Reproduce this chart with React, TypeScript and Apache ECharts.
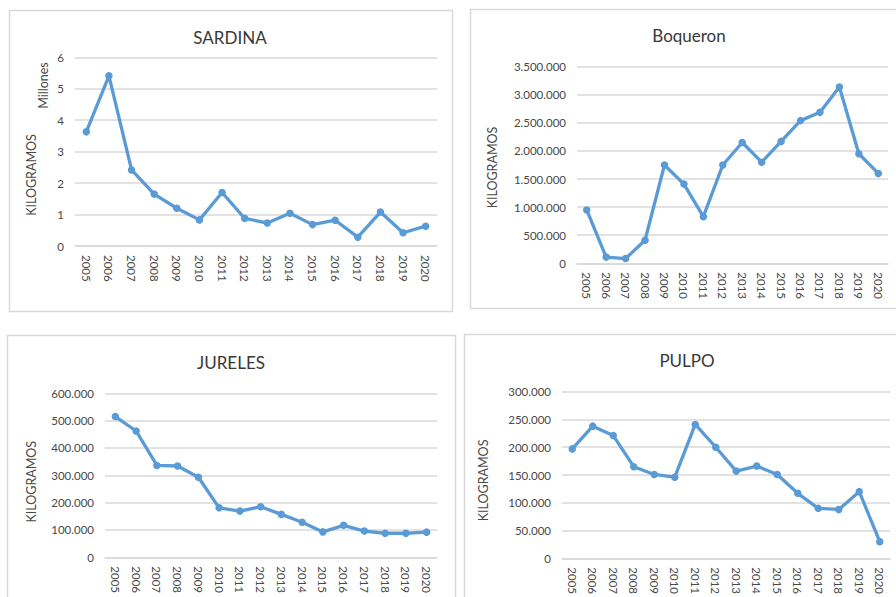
import React, { useEffect, useRef } from "react";
import * as echarts from "echarts";

const years = ["2005","2006","2007","2008","2009","2010","2011","2012","2013","2014","2015","2016","2017","2018","2019","2020"];

const sardina = [3630000, 5410000, 2420000, 1650000, 1200000, 830000, 1700000, 880000, 730000, 1040000, 680000, 820000, 280000, 1080000, 420000, 630000];
const boqueron = [950000, 110000, 85000, 410000, 1750000, 1410000, 830000, 1750000, 2150000, 1800000, 2170000, 2540000, 2690000, 3140000, 1950000, 1600000];
const jureles = [515000, 462000, 336000, 334000, 293000, 181000, 169000, 185000, 157000, 128000, 93000, 117000, 96000, 88000, 88000, 92000];
const pulpo = [197000, 238000, 221000, 165000, 151000, 146000, 241000, 200000, 157000, 166000, 151000, 117000, 90000, 88000, 120000, 30000];

const titles = ["SARDINA", "Boqueron", "JURELES", "PULPO"];

const FONT = "Lato, 'Open Sans', sans-serif";
const LABEL = "#484848";
const GRIDC = "#d9d9d9";
const LINEC = "#5B9BD5";

const dots = (v: number) => String(v).replace(/\B(?=(\d{3})+(?!\d))/g, ".");

export default function App() {
  const ref = useRef<HTMLDivElement>(null);
  useEffect(() => {
    if (!ref.current) return;
    const chart = echarts.init(ref.current, undefined, { renderer: "svg" });

    const grids = [
      { left: 75, top: 57.3, width: 362, height: 188.7 },
      { left: 577, top: 66.7, width: 311, height: 196.6 },
      { left: 105, top: 393.3, width: 332, height: 164 },
      { left: 562, top: 391.7, width: 328, height: 166.6 },
    ];
    const yCfg = [
      { max: 6000000, interval: 1000000, fmt: (v: number) => String(v / 1000000) },
      { max: 3500000, interval: 500000, fmt: dots },
      { max: 600000, interval: 100000, fmt: dots },
      { max: 300000, interval: 50000, fmt: dots },
    ];
    const series = [sardina, boqueron, jureles, pulpo];

    const titlePos = [
      [230, 37],
      [689, 35],
      [231, 362],
      [687, 360.5],
    ];
    const kiloPos = [
      [31.7, 175],
      [492, 167.5],
      [31, 481.7],
      [483, 480.4],
    ];
    const panels = [
      [9.5, 10.5, 443, 301],
      [470.5, 9.5, 440, 299],
      [7.5, 335.5, 448, 280],
      [464.5, 334.5, 440, 280],
    ];

    const graphic: any[] = [];
    panels.forEach((p) =>
      graphic.push({
        type: "rect",
        shape: { x: p[0], y: p[1], width: p[2], height: p[3] },
        style: { fill: "#fff", stroke: GRIDC, lineWidth: 1.5 },
        z: -10,
        silent: true,
      })
    );
    titles.forEach((t, i) =>
      graphic.push({
        type: "text",
        x: titlePos[i][0],
        y: titlePos[i][1],
        style: {
          text: t,
          fontFamily: FONT,
          fontSize: 17,
          fill: "#383838",
          align: "center",
          verticalAlign: "middle",
        },
      })
    );
    kiloPos.forEach((k) =>
      graphic.push({
        type: "text",
        x: k[0],
        y: k[1],
        rotation: Math.PI / 2,
        style: {
          text: "KILOGRAMOS",
          fontFamily: FONT,
          fontSize: 12.5,
          fill: LABEL,
          align: "center",
          verticalAlign: "middle",
        },
      })
    );
    graphic.push({
      type: "text",
      x: 43.3,
      y: 85.5,
      rotation: Math.PI / 2,
      style: {
        text: "Millones",
        fontFamily: FONT,
        fontSize: 12.5,
        fill: LABEL,
        align: "center",
        verticalAlign: "middle",
      },
    });

    chart.setOption({
      animation: false,
      backgroundColor: "#fff",
      grid: grids,
      xAxis: grids.map((_, i) => ({
        type: "category",
        gridIndex: i,
        data: years,
        boundaryGap: true,
        axisLine: { lineStyle: { color: GRIDC, width: 1.5 } },
        axisTick: { show: false },
        axisLabel: {
          rotate: -90,
          margin: 9,
          interval: 0,
          color: LABEL,
          fontFamily: FONT,
          fontSize: 11.5,
        },
      })),
      yAxis: grids.map((_, i) => ({
        type: "value",
        gridIndex: i,
        min: 0,
        max: yCfg[i].max,
        interval: yCfg[i].interval,
        axisLine: { show: false },
        axisTick: { show: false },
        splitLine: { lineStyle: { color: GRIDC, width: 1.5 } },
        axisLabel: {
          margin: 11,
          color: LABEL,
          fontFamily: FONT,
          fontSize: 11.5,
          formatter: yCfg[i].fmt,
        },
      })),
      series: series.map((d, i) => ({
        type: "line",
        xAxisIndex: i,
        yAxisIndex: i,
        data: d,
        symbol: "circle",
        symbolSize: 7.5,
        lineStyle: { color: LINEC, width: 3.3 },
        itemStyle: { color: LINEC },
      })),
      graphic,
    });
    return () => chart.dispose();
  }, []);
  return (
    <div
      ref={ref}
      style={{ position: "fixed", left: 0, top: 0, width: 896, height: 597, background: "#fff" }}
    />
  );
}
